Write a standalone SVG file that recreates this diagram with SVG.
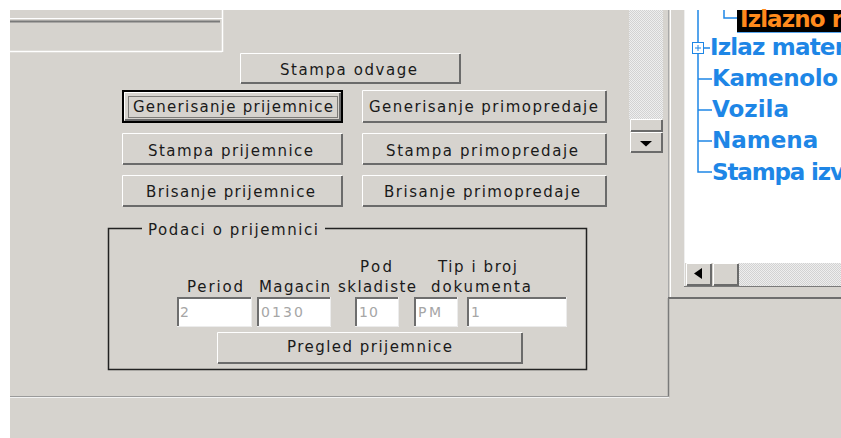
<svg xmlns="http://www.w3.org/2000/svg" width="841" height="438" viewBox="0 0 841 438">
<style>
.face{fill:#d6d3ce}
.hi{fill:none;stroke:#ffffff;stroke-width:1}
.lo{fill:none;stroke:#6b6b6b;stroke-width:2}
.fld{fill:#ffffff}
.fdk{fill:none;stroke:#6e6e6e;stroke-width:2}
.flt{fill:none;stroke:#ececec;stroke-width:1}
.t{font-family:"DejaVu Sans",Verdana,sans-serif;font-size:15px;fill:#1a1a1a}
.c{text-anchor:middle}
.v{font-family:"DejaVu Sans",Verdana,sans-serif;font-size:14px;fill:#a6a6a6}
.tree{font-family:"DejaVu Sans",Verdana,sans-serif;font-size:23px;font-weight:bold;fill:#1e86e6}
.tl{fill:none;stroke:#1e86e6;stroke-width:1.5}
</style>
<defs>
<pattern id="stip" width="2" height="2" patternUnits="userSpaceOnUse">
<rect width="2" height="2" fill="#eeeeee"/>
<rect width="1" height="1" fill="#d2d2d2"/>
<rect x="1" y="1" width="1" height="1" fill="#d2d2d2"/>
</pattern>
</defs>
<!-- background -->
<rect width="841" height="438" fill="#ffffff"/>
<rect x="10" y="10" width="831" height="428" fill="#d6d3ce"/>

<!-- top-left panel -->
<g id="top-left-panel">
<path d="M10,18.5 H222" stroke="#ffffff" stroke-width="1"/>
<path d="M10,21.5 H220" stroke="#7a7a7a" stroke-width="2"/>
<path d="M222.5,10 V52" stroke="#ffffff" stroke-width="1.5"/>
<path d="M10,51.5 H222" stroke="#ffffff" stroke-width="1.5"/>
</g>

<!-- buttons -->
<g id="btn-stampa-odvage">
<rect class="face" x="240" y="53" width="221" height="31"/>
<path class="hi" d="M240.5,83 V53.5 H460"/>
<path class="lo" d="M241,83 H460 V54"/>
<text class="t c" x="348.5" y="75" textLength="137" lengthAdjust="spacing">Stampa odvage</text>
</g>
<g id="btn-generisanje-prijemnice">
<rect x="123" y="91" width="219" height="31" fill="#d6d3ce" stroke="#000000" stroke-width="2"/>
<path class="hi" d="M124.5,120 V92.5 H340"/>
<path class="lo" d="M125,120 H340 V93"/>
<rect x="128.5" y="96.5" width="209" height="21" fill="none" stroke="#222222" stroke-width="1" stroke-dasharray="1 1"/>
<text class="t c" x="233" y="112" textLength="200" lengthAdjust="spacing">Generisanje prijemnice</text>
</g>
<g id="btn-generisanje-primopredaje">
<rect class="face" x="362" y="90" width="245" height="33"/>
<path class="hi" d="M362.5,122 V90.5 H606"/>
<path class="lo" d="M363,122 H606 V91"/>
<text class="t c" x="483.5" y="112" textLength="229" lengthAdjust="spacing">Generisanje primopredaje</text>
</g>
<g id="btn-stampa-prijemnice">
<rect class="face" x="122" y="133" width="221" height="32"/>
<path class="hi" d="M122.5,164 V133.5 H342"/>
<path class="lo" d="M123,164 H342 V134"/>
<text class="t c" x="230.5" y="156" textLength="165" lengthAdjust="spacing">Stampa prijemnice</text>
</g>
<g id="btn-stampa-primopredaje">
<rect class="face" x="362" y="133" width="245" height="32"/>
<path class="hi" d="M362.5,164 V133.5 H606"/>
<path class="lo" d="M363,164 H606 V134"/>
<text class="t c" x="482" y="156" textLength="192" lengthAdjust="spacing">Stampa primopredaje</text>
</g>
<g id="btn-brisanje-prijemnice">
<rect class="face" x="122" y="175" width="221" height="32"/>
<path class="hi" d="M122.5,206 V175.5 H342"/>
<path class="lo" d="M123,206 H342 V176"/>
<text class="t c" x="230.5" y="197" textLength="169" lengthAdjust="spacing">Brisanje prijemnice</text>
</g>
<g id="btn-brisanje-primopredaje">
<rect class="face" x="362" y="175" width="245" height="32"/>
<path class="hi" d="M362.5,206 V175.5 H606"/>
<path class="lo" d="M363,206 H606 V176"/>
<text class="t c" x="482" y="197" textLength="196" lengthAdjust="spacing">Brisanje primopredaje</text>
</g>

<!-- group box -->
<g id="podaci-o-prijemnici">
<path d="M142,228.5 H108.5 V369.5 H586.5 V228.5 H325" fill="none" stroke="#222222" stroke-width="1.5"/>
<text class="t" x="148" y="235" textLength="170" lengthAdjust="spacing">Podaci o prijemnici</text>
<text class="t" x="187" y="292" textLength="56" lengthAdjust="spacing">Period</text>
<text class="t" x="259" y="292" textLength="71" lengthAdjust="spacing">Magacin</text>
<text class="t" x="360" y="272" textLength="32" lengthAdjust="spacing">Pod</text>
<text class="t" x="338" y="292" textLength="78" lengthAdjust="spacing">skladiste</text>
<text class="t" x="438" y="272" textLength="79" lengthAdjust="spacing">Tip i broj</text>
<text class="t" x="431" y="292" textLength="100" lengthAdjust="spacing">dokumenta</text>
</g>
<g id="field-period">
<rect class="fld" x="177" y="297" width="75" height="30"/>
<path class="fdk" d="M178,326 V298 H251"/>
<path class="flt" d="M177,326.5 H251.5 V297"/>
<text class="v" x="180" y="317">2</text>
</g>
<g id="field-magacin">
<rect class="fld" x="257" y="297" width="74" height="30"/>
<path class="fdk" d="M258,326 V298 H330"/>
<path class="flt" d="M257,326.5 H330.5 V297"/>
<text class="v" x="261" y="317" textLength="42" lengthAdjust="spacing">0130</text>
</g>
<g id="field-pod-skladiste">
<rect class="fld" x="355" y="297" width="44" height="30"/>
<path class="fdk" d="M356,326 V298 H398"/>
<path class="flt" d="M355,326.5 H398.5 V297"/>
<text class="v" x="359" y="317" textLength="19" lengthAdjust="spacing">10</text>
</g>
<g id="field-tip">
<rect class="fld" x="414" y="297" width="44" height="30"/>
<path class="fdk" d="M415,326 V298 H457"/>
<path class="flt" d="M414,326.5 H457.5 V297"/>
<text class="v" x="418" y="317" textLength="23" lengthAdjust="spacing">PM</text>
</g>
<g id="field-broj">
<rect class="fld" x="467" y="297" width="100" height="30"/>
<path class="fdk" d="M468,326 V298 H566"/>
<path class="flt" d="M467,326.5 H566.5 V297"/>
<text class="v" x="471" y="317">1</text>
</g>
<g id="btn-pregled-prijemnice">
<rect class="face" x="217" y="332" width="306" height="32"/>
<path class="hi" d="M217.5,363 V332.5 H522"/>
<path class="lo" d="M218,363 H522 V333"/>
<text class="t c" x="369.5" y="352" textLength="165" lengthAdjust="spacing">Pregled prijemnice</text>
</g>

<!-- vertical scrollbar -->
<g id="vscroll">
<rect x="629" y="10" width="34" height="110" fill="url(#stip)"/>
<rect class="face" x="630" y="119" width="33" height="13"/>
<path class="hi" d="M630.5,131 V119.5 H662"/>
<path class="lo" d="M631,131 H662 V120"/>
<rect class="face" x="630" y="132" width="33" height="21"/>
<path class="hi" d="M630.5,152 V132.5 H662"/>
<path class="lo" d="M631,152 H662 V133"/>
<path d="M640,141 H652 L646,146.5 Z" fill="#000000"/>
</g>

<!-- separators -->
<g id="separators">
<path d="M668.5,10 V298" stroke="#a8a8a8" stroke-width="1"/>
<path d="M670.5,10 V298" stroke="#ffffff" stroke-width="1"/>
<path d="M668,298 H841" stroke="#6e6e6e" stroke-width="2"/>
<path d="M668.5,298 V397" stroke="#7a7a7a" stroke-width="1.5"/>
<path d="M10,396.5 H669" stroke="#9a9a9a" stroke-width="1"/>
<path d="M10,397.5 H669" stroke="#f2f2f2" stroke-width="1"/>
</g>

<!-- tree panel -->
<g id="tree-panel">
<rect x="684" y="10" width="157" height="253" fill="#ffffff"/>
<path d="M684.5,10 V287" stroke="#efefef" stroke-width="1"/>
</g>
<g id="hscroll">
<rect x="739" y="263" width="102" height="23" fill="url(#stip)"/>
<rect class="face" x="686" y="263" width="26" height="23"/>
<path class="hi" d="M686.5,285 V263.5 H711"/>
<path class="lo" d="M687,285 H711 V264"/>
<path d="M694,273.5 L702,268 V279 Z" fill="#000000"/>
<rect class="face" x="713" y="263" width="26" height="23"/>
<path class="hi" d="M713.5,285 V263.5 H738"/>
<path class="lo" d="M714,285 H738 V264"/>
<path d="M684,286.5 H841" stroke="#7a7a7a" stroke-width="1"/>
</g>

<!-- tree -->
<g id="tree-connectors">
<path class="tl" d="M698,10 V172 H712"/>
<path class="tl" d="M724,10 V18 H738"/>
<path class="tl" d="M704,48 H710"/>
<path class="tl" d="M698,79 H712"/>
<path class="tl" d="M698,110 H712"/>
<path class="tl" d="M698,141 H712"/>
</g>
<g id="node-izlazno">
<rect x="737" y="10" width="104" height="22" fill="#000000"/>
<path d="M737,32.5 H841" stroke="#5aa8f0" stroke-width="1"/>
<text class="tree" x="740" y="27" style="fill:#ff8a1c" textLength="103" lengthAdjust="spacing">Izlazno r</text>
</g>
<g id="node-izlaz-mater">
<rect x="692.5" y="42.5" width="11" height="11" fill="#ffffff" stroke="#1e86e6" stroke-width="1"/>
<path d="M695,48 H701 M698,45 V51" stroke="#1e86e6" stroke-width="1"/>
<text class="tree" x="710" y="55" textLength="136" lengthAdjust="spacing">Izlaz mater</text>
</g>
<g id="node-kamenolo"><text class="tree" x="712" y="86" textLength="126" lengthAdjust="spacing">Kamenolo</text></g>
<g id="node-vozila"><text class="tree" x="712" y="117">Vozila</text></g>
<g id="node-namena"><text class="tree" x="712" y="148">Namena</text></g>
<g id="node-stampa"><text class="tree" x="712" y="180" textLength="133" lengthAdjust="spacing">Stampa izv</text></g>
</svg>
